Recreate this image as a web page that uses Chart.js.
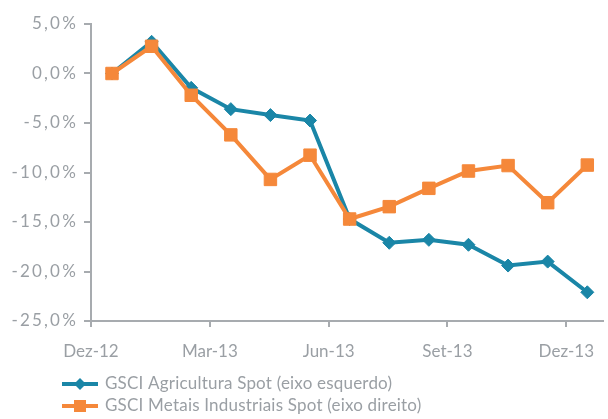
<!DOCTYPE html>
<html><head><meta charset="utf-8">
<script src="https://cdn.jsdelivr.net/npm/chart.js@4"></script>
<style>html,body{margin:0;padding:0;background:#fff}#w{width:608px;height:419px;position:relative}</style>
</head><body><div id="w"><canvas id="c" width="608" height="419"></canvas></div>
<script>
const months = ["Dez-12","Jan-13","Fev-13","Mar-13","Abr-13","Mai-13","Jun-13","Jul-13","Ago-13","Set-13","Out-13","Nov-13","Dez-13"];
const tickLabels = ["Dez-12","Mar-13","Jun-13","Set-13","Dez-13"];
const agricultura = [0.0, 3.2, -1.45, -3.6, -4.2, -4.75, -14.7, -17.1, -16.8, -17.3, -19.4, -19.0, -22.1];
const metais = [0.0, 2.75, -2.2, -6.2, -10.7, -8.25, -14.7, -13.45, -11.6, -9.85, -9.3, -13.05, -9.25];
const seriesNames = ["GSCI Agricultura Spot (eixo esquerdo)", "GSCI Metais Industriais Spot (eixo direito)"];

const BLUE = '#1a86a7', ORANGE = '#f5883a', GRAY = '#9a9fa4', AXIS = '#a7abaf';
const OFFSET = 0.53;
const toPts = arr => arr.map((v, i) => ({x: i + OFFSET, y: v}));

const legendPlugin = {
  id: 'customLegend',
  afterDraw(chart) {
    const ctx = chart.ctx;
    const items = [
      {label: seriesNames[0], color: BLUE, style: 'diamond', y: 384},
      {label: seriesNames[1], color: ORANGE, style: 'square', y: 406}
    ];
    ctx.save();
    items.forEach(it => {
      ctx.strokeStyle = it.color; ctx.lineWidth = 4; ctx.lineCap = 'butt';
      ctx.beginPath(); ctx.moveTo(62, it.y); ctx.lineTo(98, it.y); ctx.stroke();
      ctx.fillStyle = it.color;
      ctx.beginPath();
      if (it.style === 'diamond') {
        ctx.moveTo(80, it.y - 6); ctx.lineTo(86, it.y); ctx.lineTo(80, it.y + 6); ctx.lineTo(74, it.y);
      } else {
        ctx.rect(74, it.y - 6, 12, 12);
      }
      ctx.closePath(); ctx.fill();
      ctx.fillStyle = GRAY;
      ctx.font = '17px Lato';
      ctx.letterSpacing = '0.2px';
      ctx.textBaseline = 'middle'; ctx.textAlign = 'left';
      ctx.fillText(it.label, 105, it.y);
    });
    ctx.restore();
  }
};

function spaceLabels(scale, spacing) {
  if (scale._spaced) return;
  scale._spaced = true;
  const orig = scale.drawLabels;
  scale.drawLabels = function (area) {
    const ctx = this.ctx;
    ctx.save();
    ctx.letterSpacing = spacing;
    orig.call(this, area);
    ctx.restore();
  };
}

new Chart(document.getElementById('c'), {
  type: 'line',
  data: {
    datasets: [
      {label: seriesNames[0], data: toPts(agricultura), borderColor: BLUE, backgroundColor: BLUE,
       borderWidth: 4, pointStyle: 'rectRot', pointRadius: 6.5, pointBorderWidth: 1, pointBackgroundColor: BLUE, pointBorderColor: BLUE, tension: 0, order: 1},
      {label: seriesNames[1], data: toPts(metais), borderColor: ORANGE, backgroundColor: ORANGE,
       borderWidth: 4, pointStyle: 'rect', pointRadius: 8.8, pointBorderWidth: 1, pointBackgroundColor: ORANGE, pointBorderColor: ORANGE, tension: 0, order: 0}
    ]
  },
  options: {
    responsive: false, animation: false, devicePixelRatio: 1,
    layout: {autoPadding: false, padding: {top: 24, right: 0, left: 0, bottom: 58}},
    plugins: {legend: {display: false}, tooltip: {enabled: false}},
    scales: {
      x: {
        type: 'linear', min: 0, max: 12.93,
        afterBuildTicks: s => { s.ticks = tickLabels.map((_, k) => ({value: k * 3})); },
        afterFit: s => { s.height = 40; },
        ticks: {autoSkip: false, maxRotation: 0, color: GRAY, font: {family: 'Lato', size: 17}, padding: 14,
                callback: (v, i) => tickLabels[i]},
        grid: {drawOnChartArea: false, drawTicks: true, tickLength: 6, color: AXIS, lineWidth: 2},
        border: {color: AXIS, width: 2}
      },
      y: {
        min: -25, max: 5,
        afterFit: s => { s.width = 91; spaceLabels(s, '2.2px'); },
        ticks: {stepSize: 5, color: GRAY, font: {family: 'Lato', size: 17}, padding: 6,
                callback: v => v.toFixed(1).replace('.', ',') + '%'},
        grid: {drawOnChartArea: false, drawTicks: true, tickLength: 7, color: AXIS, lineWidth: 2},
        border: {color: AXIS, width: 2}
      }
    }
  },
  plugins: [legendPlugin]
});
</script></body></html>
